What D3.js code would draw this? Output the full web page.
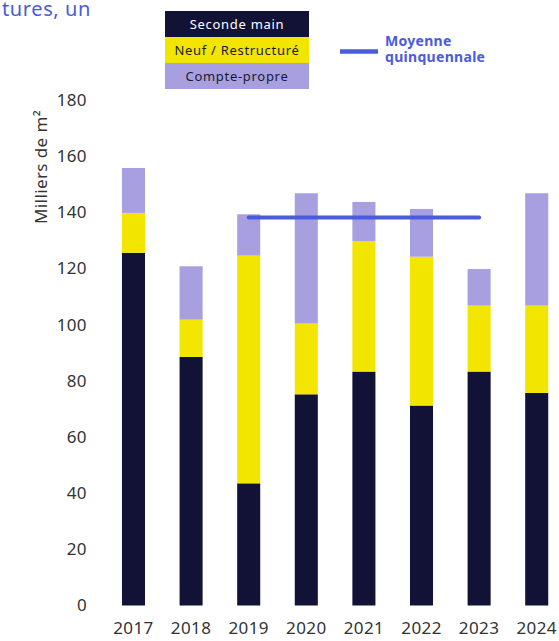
<!DOCTYPE html>
<html>
<head>
<meta charset="utf-8">
<script src="https://cdn.jsdelivr.net/npm/d3@7"></script>
<style>
  html, body { margin: 0; padding: 0; background: #fff; }
  svg { display: block; }
  text { font-family: "Noto Sans", "DejaVu Sans", sans-serif; }
</style>
</head>
<body>
<svg id="chart" width="559" height="641"></svg>
<script>
// Surfaces placées par année (milliers de m²)
const years = ["2017", "2018", "2019", "2020", "2021", "2022", "2023", "2024"];
const secondeMain = [125.6, 88.5, 43.5, 75.2, 83.3, 71.2, 83.3, 75.7];
const neufRestructure = [14.2, 13.3, 81.1, 25.2, 46.5, 53.0, 23.5, 31.1];
const comptePropre = [16.0, 19.0, 14.7, 46.4, 13.9, 17.0, 13.0, 40.0];
const seriesNames = ["Seconde main", "Neuf / Restructuré", "Compte-propre"];
const yTicks = [0, 20, 40, 60, 80, 100, 120, 140, 160, 180];
// Moyenne quinquennale calculée sur 2019-2023
const averageYears = ["2019", "2020", "2021", "2022", "2023"];

const colors = ["#111236", "#f2e600", "#a89fe0"];
const textColors = ["#ffffff", "#1a1a2e", "#1a1a2e"];
const blue = "#4a5bdc";

const svg = d3.select("#chart");

const x = d3.scaleBand()
  .domain(years)
  .range([87.4, 582.8])
  .paddingInner(0.6)
  .paddingOuter(0.6);

const y = d3.scaleLinear()
  .domain([0, 180])
  .range([605.5, 100]);

// Données empilées
const rows = years.map((yr, i) => ({
  year: yr,
  "Seconde main": secondeMain[i],
  "Neuf / Restructuré": neufRestructure[i],
  "Compte-propre": comptePropre[i]
}));
const stacked = d3.stack().keys(seriesNames)(rows);

svg.append("g")
  .selectAll("g")
  .data(stacked)
  .join("g")
  .attr("fill", (d, i) => colors[i])
  .selectAll("rect")
  .data(d => d)
  .join("rect")
  .attr("x", d => x(d.data.year))
  .attr("width", x.bandwidth())
  .attr("y", d => y(d[1]))
  .attr("height", d => y(d[0]) - y(d[1]));

// Ligne de moyenne quinquennale
const totals = rows.map(r => seriesNames.reduce((s, k) => s + r[k], 0));
const avg = d3.mean(averageYears.map(yr => totals[years.indexOf(yr)]));
const first = averageYears[0], last = averageYears[averageYears.length - 1];
svg.append("line")
  .attr("x1", x(first) + x.bandwidth() / 2)
  .attr("x2", x(last) + x.bandwidth() / 2)
  .attr("y1", y(avg))
  .attr("y2", y(avg))
  .attr("stroke", blue)
  .attr("stroke-width", 4)
  .attr("stroke-linecap", "round");

// Axe des ordonnées
const yAxis = svg.append("g")
  .attr("transform", "translate(90,0)")
  .call(d3.axisLeft(y).tickValues(yTicks).tickSize(0).tickPadding(3));
yAxis.select(".domain").remove();
yAxis.selectAll("text")
  .attr("font-family", "\"Noto Sans\", sans-serif")
  .attr("font-size", 17)
  .attr("letter-spacing", 0.4)
  .attr("fill", "#333");

// Axe des abscisses
const xAxis = svg.append("g")
  .attr("transform", "translate(0,619)")
  .call(d3.axisBottom(x).tickSize(0).tickPadding(3));
xAxis.select(".domain").remove();
xAxis.selectAll("text")
  .attr("font-family", "\"Noto Sans\", sans-serif")
  .attr("font-size", 17)
  .attr("letter-spacing", 0.4)
  .attr("fill", "#333");

// Titre de l'axe Y
svg.append("text")
  .attr("transform", "translate(47,167) rotate(-90)")
  .attr("text-anchor", "middle")
  .attr("font-size", 17)
  .attr("letter-spacing", 0.4)
  .attr("fill", "#333")
  .text("Milliers de m²");

// Fin du texte d'introduction
svg.append("text")
  .attr("x", 91)
  .attr("y", 16)
  .attr("text-anchor", "end")
  .attr("font-size", 20)
  .attr("letter-spacing", 0.6)
  .attr("fill", blue)
  .text("tures,  un");

// Légende des séries
const legend = svg.append("g").attr("transform", "translate(165,11)");
seriesNames.forEach((name, i) => {
  legend.append("rect")
    .attr("x", 0)
    .attr("y", i * 26)
    .attr("width", 144)
    .attr("height", 26)
    .attr("fill", colors[i]);
  legend.append("text")
    .attr("x", 72)
    .attr("y", i * 26 + 13)
    .attr("dy", "0.35em")
    .attr("text-anchor", "middle")
    .attr("font-size", 13)
    .attr("letter-spacing", 0.7)
    .attr("fill", textColors[i])
    .text(name);
});

// Légende de la moyenne
svg.append("line")
  .attr("x1", 340).attr("x2", 378)
  .attr("y1", 51.5).attr("y2", 51.5)
  .attr("stroke", blue)
  .attr("stroke-width", 4.5);
const avgLabel = svg.append("text")
  .attr("x", 385)
  .attr("font-size", 14)
  .attr("font-weight", "bold")
  .attr("letter-spacing", 0.3)
  .attr("fill", blue);
avgLabel.append("tspan").attr("x", 385).attr("y", 46).text("Moyenne");
avgLabel.append("tspan").attr("x", 385).attr("y", 62).text("quinquennale");
</script>
</body>
</html>
